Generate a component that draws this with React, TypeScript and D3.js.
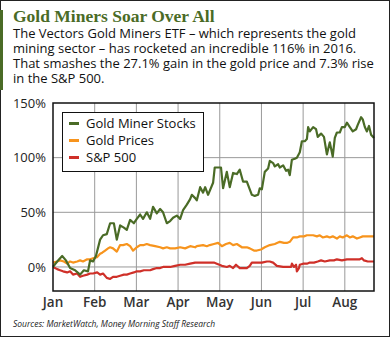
import React from "react";
import * as d3 from "d3";

const months = ["Jan", "Feb", "Mar", "Apr", "May", "Jun", "Jul", "Aug"];
const yTicks = [0, 50, 100, 150];
const seriesNames = ["Gold Miner Stocks", "Gold Prices", "S&P 500"];
const seriesColors = ["#4a6b26", "#f7941d", "#cf3029"];

// [month offset from Jan 1, % change]
const goldMiners: [number, number][] = [
  [0.0, 0], [0.1, 5], [0.22, 10], [0.31, 6], [0.41, -1], [0.53, -3], [0.65, -7], [0.74, -3], [0.84, -4],
  [0.89, 6], [0.96, 5], [1.03, 10], [1.13, 25], [1.2, 29], [1.29, 30], [1.37, 40], [1.46, 40], [1.53, 25],
  [1.61, 38], [1.7, 36], [1.77, 34], [1.85, 43], [1.94, 40], [2.01, 44], [2.09, 48], [2.16, 44], [2.25, 50],
  [2.33, 44], [2.4, 55], [2.49, 49], [2.57, 53], [2.64, 50], [2.73, 40], [2.81, 42], [2.88, 45], [2.97, 47],
  [3.05, 44], [3.12, 52], [3.21, 57], [3.29, 62], [3.33, 66], [3.41, 63], [3.45, 61], [3.53, 73], [3.6, 68],
  [3.65, 73], [3.72, 66], [3.84, 77], [3.88, 91], [3.96, 91], [4.03, 91], [4.08, 72], [4.17, 87], [4.24, 73],
  [4.32, 86], [4.41, 85], [4.48, 89], [4.56, 78], [4.65, 78], [4.72, 71], [4.77, 66], [4.84, 65], [4.92, 66],
  [4.96, 72], [5.01, 71], [5.08, 87], [5.16, 90], [5.2, 97], [5.28, 95], [5.32, 92], [5.4, 94], [5.44, 91],
  [5.52, 93], [5.59, 88], [5.64, 89], [5.68, 84], [5.73, 98], [5.8, 99], [5.85, 100], [5.92, 105], [5.97, 115],
  [6.04, 115], [6.09, 117], [6.12, 128], [6.16, 124], [6.24, 128], [6.31, 126], [6.35, 119], [6.43, 122],
  [6.5, 119], [6.57, 103], [6.64, 114], [6.71, 101], [6.76, 118], [6.81, 123], [6.88, 123], [6.93, 128],
  [7.0, 128], [7.05, 132], [7.12, 128], [7.19, 124], [7.27, 126], [7.31, 130], [7.39, 137], [7.43, 135],
  [7.48, 128], [7.53, 124], [7.58, 129], [7.63, 121], [7.7, 118],
];

const goldPrices: [number, number][] = [
  [0.0, 4], [0.1, 5], [0.17, 6], [0.26, 5], [0.34, 3], [0.41, 5], [0.48, 4], [0.58, 5], [0.65, 6], [0.72, 5],
  [0.82, 7], [0.89, 7], [0.96, 8], [1.06, 9], [1.13, 12], [1.18, 13], [1.25, 15], [1.32, 17], [1.37, 18],
  [1.44, 17], [1.53, 14], [1.61, 20], [1.68, 20], [1.77, 21], [1.85, 19], [1.92, 15], [2.01, 18], [2.09, 20],
  [2.18, 20], [2.25, 21], [2.33, 20], [2.45, 19], [2.57, 18], [2.64, 17], [2.73, 18], [2.81, 17], [2.93, 17],
  [3.05, 18], [3.17, 17], [3.29, 19], [3.41, 18], [3.45, 19], [3.6, 20], [3.69, 19], [3.76, 20], [3.86, 21],
  [3.96, 22], [4.05, 19], [4.15, 21], [4.24, 22], [4.32, 20], [4.41, 21], [4.53, 18], [4.65, 18], [4.72, 17],
  [4.82, 15], [4.89, 15], [4.99, 16], [5.08, 18], [5.2, 20], [5.32, 21], [5.44, 23], [5.54, 22], [5.61, 22],
  [5.68, 23], [5.76, 27], [5.85, 27], [5.92, 28], [6.02, 28], [6.09, 29], [6.16, 29], [6.24, 29], [6.33, 28],
  [6.4, 29], [6.47, 27], [6.57, 28], [6.64, 27], [6.71, 28], [6.81, 26], [6.88, 28], [6.95, 27], [7.05, 29],
  [7.12, 27], [7.19, 28], [7.29, 26], [7.36, 27], [7.43, 28], [7.53, 28], [7.6, 28], [7.7, 28],
];

const sp500: [number, number][] = [
  [0.0, 0], [0.1, -2], [0.17, -3], [0.24, -4], [0.34, -5], [0.41, -4], [0.48, -7], [0.58, -6], [0.65, -9],
  [0.72, -8], [0.82, -7], [0.89, -6], [0.96, -6], [1.06, -5], [1.13, -7], [1.2, -6], [1.29, -10], [1.37, -11],
  [1.44, -9], [1.53, -9], [1.61, -8], [1.7, -7], [1.77, -7], [1.85, -6], [1.94, -5], [2.01, -4], [2.09, -4],
  [2.18, -3], [2.25, -3], [2.33, -3], [2.4, -2], [2.49, -1], [2.57, -1], [2.64, 0], [2.73, 0], [2.81, 0],
  [2.93, 1], [3.05, 2], [3.17, 2], [3.29, 3], [3.41, 4], [3.53, 4], [3.65, 4], [3.76, 4], [3.86, 4], [3.93, 3],
  [4.05, 1], [4.17, 0], [4.24, 1], [4.32, -1], [4.39, 2], [4.48, -1], [4.58, -1], [4.65, -1], [4.72, 1],
  [4.77, 4], [4.89, 4], [5.01, 4], [5.13, 5], [5.2, 5], [5.28, 4], [5.37, 1], [5.52, 0], [5.64, 0], [5.71, 0],
  [5.73, 3], [5.78, 0], [5.83, 2], [5.85, -4], [5.9, -1], [5.92, 2], [6.0, 3], [6.09, 3], [6.16, 4], [6.26, 4],
  [6.35, 5], [6.43, 6], [6.52, 5], [6.64, 6], [6.74, 6], [6.81, 7], [6.93, 6], [7.05, 7], [7.17, 7], [7.29, 7],
  [7.36, 7], [7.41, 8], [7.46, 6], [7.55, 5], [7.7, 5],
];

const titleText = "Gold Miners Soar Over All";
const subtitleLines = [
  "The Vectors Gold Miners ETF \u2013 which represents the gold",
  "mining sector \u2013 has rocketed an incredible 116% in 2016.",
  "That smashes the 27.1% gain in the gold price and 7.3% rise",
  "in the S&P 500.",
];
const sourceText = "Sources: MarketWatch, Money Morning Staff Research";

export default function App() {
  const W = 390;
  const H = 337;
  const left = 53, right = 374, top = 103, bottom = 291;
  const x = d3.scaleLinear().domain([0, 7.7]).range([left, right]);
  const y = d3.scaleLinear().domain([-22, 150]).range([bottom, top]);
  const line = d3
    .line<[number, number]>()
    .x((d) => x(d[0]))
    .y((d) => y(d[1]))
    .curve(d3.curveLinear);
  const allSeries = [goldMiners, goldPrices, sp500];
  const sans = "'Open Sans', 'Noto Sans', sans-serif";

  return (
    <svg width={W} height={H} style={{ position: "absolute", left: 0, top: 0, background: "#fff" }}>
      <rect x={0.5} y={0.5} width={W - 1} height={H - 1} fill="#fff" stroke="#222" strokeWidth={1} />
      <rect x={0} y={10} width={3} height={80} fill="#4a6b26" />
      <text x={13} y={22} fontFamily="'Liberation Serif', serif" fontWeight="bold" fontSize={17.5} fill="#4a6b26">
        {titleText}
      </text>
      {subtitleLines.map((t, i) => (
        <text key={i} x={13} y={38 + i * 15} fontFamily={sans} fontSize={13} fill="#111">
          {t}
        </text>
      ))}
      {/* grid */}
      {d3.range(1, 8).map((m) => (
        <line key={"v" + m} x1={x(m)} x2={x(m)} y1={top} y2={bottom} stroke="#999" strokeWidth={1} />
      ))}
      {yTicks.slice(0, 3).map((v) => (
        <line key={"h" + v} x1={left} x2={right} y1={y(v)} y2={y(v)} stroke="#999" strokeWidth={1} />
      ))}
      {yTicks.map((v) => (
        <text key={"yl" + v} x={46} y={y(v)} dy="0.35em" textAnchor="end" fontFamily={sans} fontSize={13} fill="#222">
          {v}%
        </text>
      ))}
      {months.map((m, i) => (
        <text key={m} x={x(i)} y={307} textAnchor="middle" fontFamily={sans} fontSize={13.5} fontWeight={600} fill="#333">
          {m}
        </text>
      ))}
      {allSeries.map((s, i) => (
        <path key={i} d={line(s) || ""} fill="none" stroke={seriesColors[i]} strokeWidth={2.2} strokeLinejoin="round" />
      )).reverse()}
      <rect x={left} y={top} width={right - left} height={bottom - top} fill="none" stroke="#111" strokeWidth={1.5} />
      {/* legend */}
      <rect x={62.5} y={112.5} width={141} height={59} fill="#fff" stroke="#111" strokeWidth={1} />
      {seriesNames.map((n, i) => (
        <g key={n}>
          <rect x={69} y={122 + i * 17} width={10} height={3} fill={seriesColors[i]} />
          <text x={86} y={123.5 + i * 17} dy="0.35em" fontFamily={sans} fontSize={13} fill="#111">
            {n}
          </text>
        </g>
      ))}
      <text x={13} y={327} fontFamily={sans} fontStyle="italic" fontSize={8.5} fill="#222">
        {sourceText}
      </text>
    </svg>
  );
}
